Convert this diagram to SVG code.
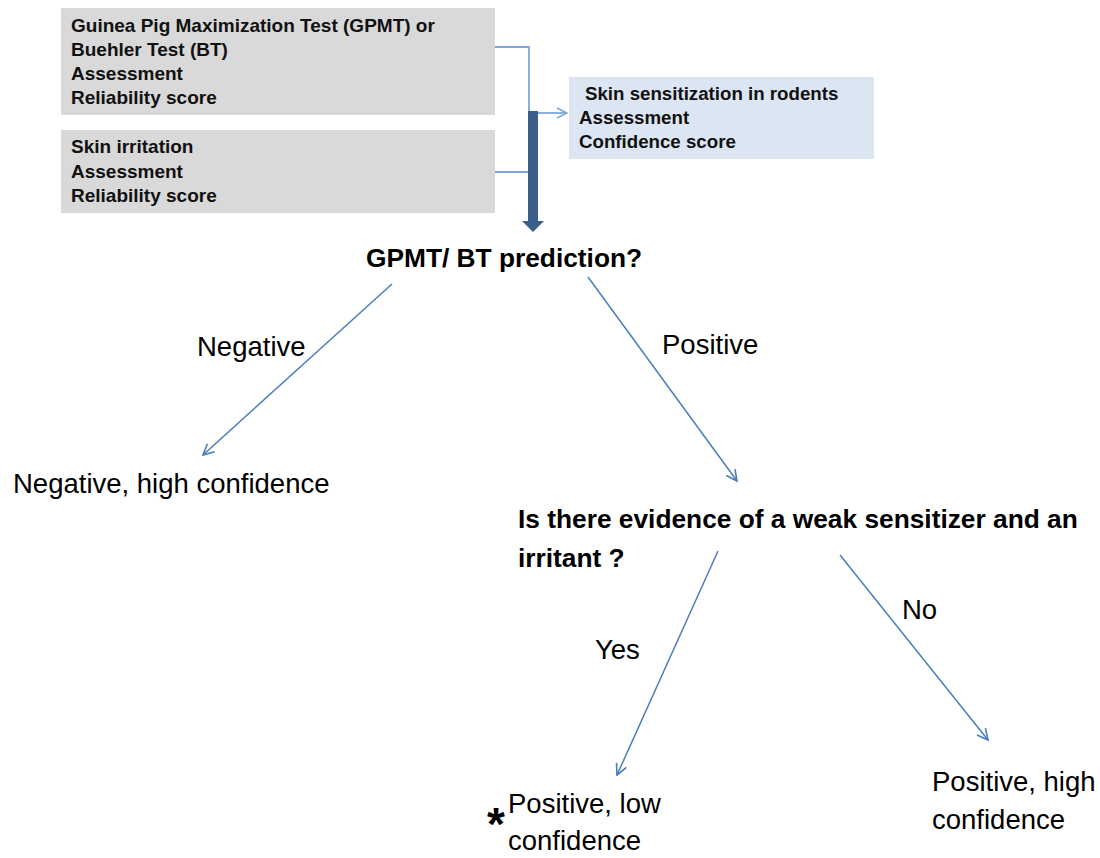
<svg xmlns="http://www.w3.org/2000/svg" width="1100" height="858" viewBox="0 0 1100 858">
<style>
.box{font-family:"Liberation Sans",Arial,sans-serif;font-weight:bold;font-size:19px;fill:#111}
.box2{font-family:"Liberation Sans",Arial,sans-serif;font-weight:bold;font-size:18.7px;fill:#111}
.q{font-family:"Liberation Sans",Arial,sans-serif;font-weight:bold;font-size:26.3px;fill:#000}
.t{font-family:"Liberation Sans",Arial,sans-serif;font-size:27.5px;fill:#000}
.ast{font-family:"Liberation Sans",Arial,sans-serif;font-size:46px;font-weight:bold;fill:#000}
.ln{stroke:#4a7ebb;stroke-width:1.5;fill:none}
.cn{stroke:#7ea6d8;stroke-width:1.8;fill:none}
</style>
<defs>
<marker id="ah" viewBox="0 0 12 12" refX="11" refY="6" markerWidth="13" markerHeight="13" markerUnits="userSpaceOnUse" orient="auto">
<path d="M1,1 L11,6 L1,11" fill="none" stroke="#4a7ebb" stroke-width="1.5"/>
</marker>
<marker id="ah2" viewBox="0 0 12 12" refX="11" refY="6" markerWidth="12" markerHeight="12" markerUnits="userSpaceOnUse" orient="auto">
<path d="M1,1 L11,6 L1,11" fill="none" stroke="#7ea6d8" stroke-width="1.5"/>
</marker>
</defs>
<rect width="1100" height="858" fill="#fff"/>
<g id="gpmt-box">
<rect x="61" y="8" width="434" height="107" fill="#d9d9d9"/>
<text class="box" x="71" y="31.5">Guinea Pig Maximization Test (GPMT) or</text>
<text class="box" x="71" y="55.8">Buehler Test (BT)</text>
<text class="box" x="71" y="80">Assessment</text>
<text class="box" x="71" y="104.3">Reliability score</text>
</g>
<g id="irritation-box">
<rect x="61" y="130" width="434" height="83" fill="#d9d9d9"/>
<text class="box" x="71" y="153">Skin irritation</text>
<text class="box" x="71" y="178">Assessment</text>
<text class="box" x="71" y="202">Reliability score</text>
</g>
<g id="rodents-box">
<rect x="569" y="77" width="305" height="82" fill="#dce6f2"/>
<text class="box2" x="585" y="100">Skin sensitization in rodents</text>
<text class="box2" x="579" y="124">Assessment</text>
<text class="box2" x="579" y="148">Confidence score</text>
</g>
<g id="connectors">
<polyline class="cn" points="495,47 529,47 529,172 495,172"/>
<line class="cn" x1="538" y1="113" x2="567" y2="113" marker-end="url(#ah2)"/>
<rect x="528" y="111" width="10" height="112" fill="#3a5f8b"/>
<polygon points="522,221 544,221 533,232" fill="#3a5f8b"/>
<line class="ln" x1="392" y1="284" x2="203" y2="455" marker-end="url(#ah)"/>
<line class="ln" x1="588" y1="277" x2="737" y2="481" marker-end="url(#ah)"/>
<line class="ln" x1="718" y1="551" x2="617" y2="775" marker-end="url(#ah)"/>
<line class="ln" x1="840" y1="555" x2="988" y2="740" marker-end="url(#ah)"/>
<text class="t" x="197" y="356">Negative</text>
<text class="t" x="662" y="354">Positive</text>
<text class="t" x="595" y="659">Yes</text>
<text class="t" x="902" y="619">No</text>
</g>
<g id="question1">
<text class="q" x="366" y="267">GPMT/ BT prediction?</text>
</g>
<g id="negative-result">
<text class="t" x="13" y="493">Negative, high confidence</text>
</g>
<g id="question2">
<text class="q" x="518" y="528">Is there evidence of a weak sensitizer and an</text>
<text class="q" x="518" y="567">irritant ?</text>
</g>
<g id="positive-low">
<text class="ast" x="487" y="840">*</text>
<text class="t" x="508" y="813">Positive, low</text>
<text class="t" x="508" y="850">confidence</text>
</g>
<g id="positive-high">
<text class="t" x="932" y="791">Positive, high</text>
<text class="t" x="932" y="829">confidence</text>
</g>
</svg>
